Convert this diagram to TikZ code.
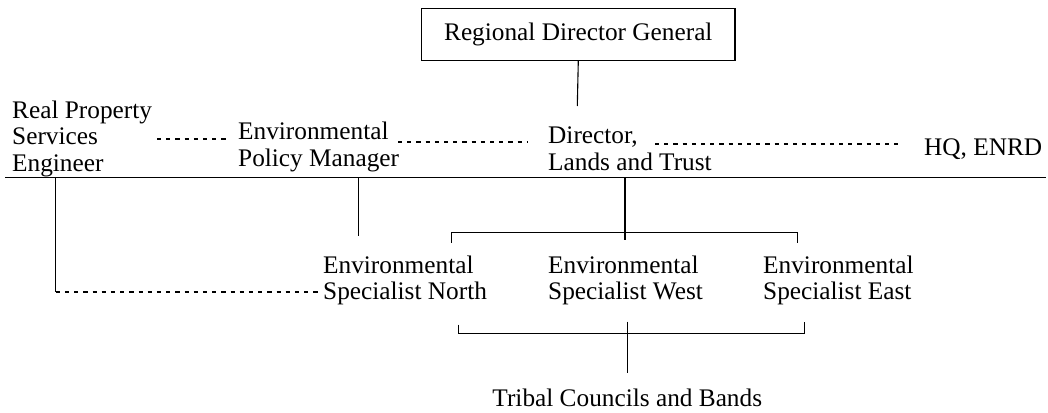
\documentclass[tikz,border=0pt]{standalone}
\usepackage{fontspec}
\setmainfont{Liberation Serif}
\begin{document}
\begin{tikzpicture}[x=1pt,y=-1pt,
  lbl/.style={inner sep=0pt,anchor=base west,font=\fontsize{25.3}{26.6}\selectfont},
  solidline/.style={line width=1.1pt},
  dotline/.style={line width=2pt,dash pattern=on 4.2pt off 5pt},
  boxnode/.style={draw,line width=1.1pt,minimum width=313.3pt,minimum height=51.7pt,inner sep=0pt,font=\fontsize{25.3}{26.6}\selectfont}]
\useasboundingbox (0,0) rectangle (1048,412);

% headings and units
\node[boxnode] (rdg) at (578.3,34.2) {Regional Director General};
\node[lbl] (rpse) at (12,118) {\begin{tabular}[t]{@{}l@{}}Real Property\\Services\\Engineer\end{tabular}};
\node[lbl] (epm) at (238,139.5) {\begin{tabular}[t]{@{}l@{}}Environmental\\Policy Manager\end{tabular}};
\node[lbl] (dlt) at (548,143.5) {\begin{tabular}[t]{@{}l@{}}Director,\\Lands and Trust\end{tabular}};
\node[lbl] (hq) at (924,155) {HQ, ENRD};
\node[lbl] (esn) at (323,273) {\begin{tabular}[t]{@{}l@{}}Environmental\\Specialist North\end{tabular}};
\node[lbl] (esw) at (548,273) {\begin{tabular}[t]{@{}l@{}}Environmental\\Specialist West\end{tabular}};
\node[lbl] (ese) at (763,273) {\begin{tabular}[t]{@{}l@{}}Environmental\\Specialist East\end{tabular}};
\node[lbl,anchor=base] (tcb) at (627.3,406.7) {Tribal Councils and Bands};

% junction points
\coordinate (rdgEnd) at (577.3,106);
\coordinate (ruleL) at (5,177.7);
\coordinate (ruleR) at (1046,177.7);
\coordinate (rpseTop) at (55.7,177.7);
\coordinate (rpseBend) at (55.7,291.7);
\coordinate (esnIn) at (321.7,291.7);
\coordinate (epmTop) at (358.3,177.7);
\coordinate (epmEnd) at (358.3,236);
\coordinate (dltTop) at (625,177.7);
\coordinate (dltEnd) at (625,240);
\coordinate (topBrL) at (451.7,232.3);
\coordinate (topBrR) at (797.5,232.3);
\coordinate (botBrL) at (458.3,333.3);
\coordinate (botBrR) at (804.3,333.3);
\coordinate (botMidT) at (627.3,321.7);
\coordinate (botMidB) at (627.3,372.7);

% solid connectors
\draw[solidline] (rdg.south) -- (rdgEnd);
\draw[solidline] (ruleL) -- (ruleR);
\draw[solidline] (rpseTop) -- (rpseBend);
\draw[solidline] (epmTop) -- (epmEnd);
\draw[solidline] (dltTop) -- (dltEnd);
\draw[solidline] ([yshift=-10.4pt]topBrL) -- (topBrL) -- (topBrR) -- ([yshift=-10.4pt]topBrR);
\draw[solidline] ([yshift=8.8pt]botBrL) -- (botBrL) -- (botBrR) -- ([yshift=11.3pt]botBrR);
\draw[solidline] (botMidT) -- (botMidB);

% dotted liaison lines
\draw[dotline] (157,138.5) -- (227,138.5);
\draw[dotline] (398,142.3) -- (527,142.3);
\draw[dotline] (655,144.3) -- (900,144.3);
\draw[dotline] (rpseBend) -- (esnIn);
\end{tikzpicture}
\end{document}
